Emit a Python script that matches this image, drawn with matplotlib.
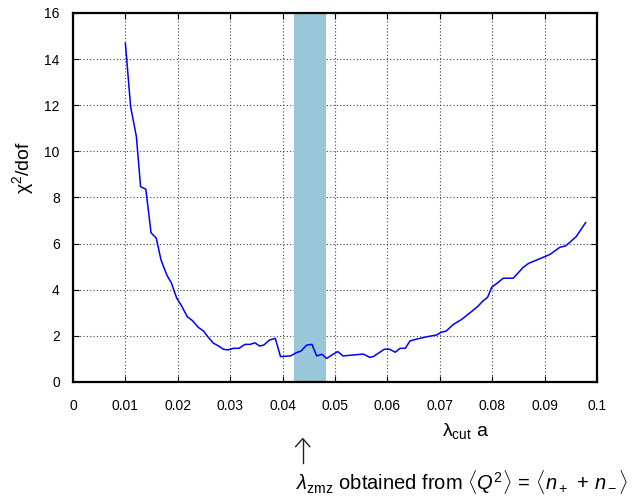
import matplotlib.pyplot as plt

plt.rcParams['font.family'] = ['Liberation Sans', 'DejaVu Sans']
plt.rcParams['mathtext.fontset'] = 'custom'
plt.rcParams['mathtext.rm'] = 'Liberation Sans'
plt.rcParams['mathtext.it'] = 'Liberation Sans:italic'

# chi^2/dof of the fit vs. cutoff lambda_cut * a
lam_cut = [0.0100, 0.0110, 0.0121, 0.0129, 0.0139, 0.0149, 0.0159, 0.0168,
           0.0179, 0.0188, 0.0198, 0.0207, 0.0218, 0.0228, 0.0239, 0.0249,
           0.0258, 0.0268, 0.0277, 0.0287, 0.0296, 0.0306, 0.0317, 0.0328,
           0.0338, 0.0347, 0.0356, 0.0364, 0.0375, 0.0386, 0.0396, 0.0415,
           0.0426, 0.0435, 0.0446, 0.0456, 0.0465, 0.0475, 0.0484, 0.0496,
           0.0505, 0.0515, 0.0554, 0.0566, 0.0573, 0.0594, 0.0604, 0.0615,
           0.0624, 0.0634, 0.0643, 0.0654, 0.0675, 0.0694, 0.0702, 0.0712,
           0.0726, 0.0742, 0.0758, 0.0772, 0.0782, 0.0791, 0.0799, 0.0809,
           0.0821, 0.0840, 0.0859, 0.0869, 0.0888, 0.0910, 0.0929, 0.0940,
           0.0960, 0.0978]
chi2_dof = [14.69, 11.94, 10.64, 8.47, 8.36, 6.47, 6.23, 5.29,
            4.64, 4.28, 3.63, 3.31, 2.83, 2.66, 2.37, 2.21,
            1.94, 1.68, 1.57, 1.42, 1.39, 1.46, 1.46, 1.63,
            1.63, 1.70, 1.56, 1.60, 1.82, 1.89, 1.10, 1.13,
            1.27, 1.34, 1.60, 1.63, 1.13, 1.20, 1.02, 1.20,
            1.32, 1.13, 1.21, 1.07, 1.10, 1.42, 1.42, 1.29,
            1.46, 1.46, 1.78, 1.85, 1.96, 2.04, 2.15, 2.21,
            2.50, 2.72, 3.01, 3.27, 3.51, 3.67, 4.11, 4.28,
            4.50, 4.50, 4.97, 5.14, 5.32, 5.53, 5.84, 5.90,
            6.30, 6.91]

# range of lambda_zmz
zmz_lo, zmz_hi = 0.0422, 0.0482

xticks = [0, 0.01, 0.02, 0.03, 0.04, 0.05, 0.06, 0.07, 0.08, 0.09, 0.1]
xticklabels = ['0', '0.01', '0.02', '0.03', '0.04', '0.05', '0.06', '0.07',
               '0.08', '0.09', '0.1']
yticks = [0, 2, 4, 6, 8, 10, 12, 14, 16]

fig = plt.figure(figsize=(6.4, 4.99), dpi=100)
ax = fig.add_axes([0.114, 0.2345, 0.819, 0.7395])

ax.axvspan(zmz_lo, zmz_hi, color='#99c6d9', lw=0, zorder=1)
ax.plot(lam_cut, chi2_dof, color='#0000ff', lw=1.1, zorder=3)

ax.set_xlim(0, 0.1)
ax.set_ylim(0, 16)
ax.set_xticks(xticks)
ax.set_xticklabels(xticklabels)
ax.set_yticks(yticks)
ax.tick_params(direction='in', top=True, right=True, length=4, width=0.8,
               labelsize=10)
ax.tick_params(axis='x', pad=12)
ax.tick_params(axis='y', pad=9.5)
ax.grid(True, color='#444444', ls=(0, (1, 2)), lw=0.8, zorder=0)
ax.set_axisbelow(True)
for s in ax.spines.values():
    s.set_linewidth(1.6)

fig.text(0.727, 0.137, r'λ$_{\rm cut}$ a', fontsize=14, ha='center',
         va='center')
fig.text(0.036, 0.665, r'χ$^{2}$/dof', fontsize=14, rotation=90,
         ha='center', va='center')
# arrow pointing up at the band
fig.add_artist(plt.Line2D([0.473, 0.473], [0.073, 0.121], color='#222222',
                          lw=1.0, transform=fig.transFigure))
fig.add_artist(plt.Line2D([0.462, 0.473, 0.484], [0.105, 0.121, 0.105],
                          color='#222222', lw=1.0,
                          transform=fig.transFigure))
fig.text(0.463, 0.035,
         r'$\lambda_{\rm zmz}$ obtained from '
         r'$\langle Q^2\rangle \,=\, \langle n_+ \,+\, n_-\rangle$',
         fontsize=14.5, ha='left', va='center')

fig.savefig('out.png', dpi=100)
